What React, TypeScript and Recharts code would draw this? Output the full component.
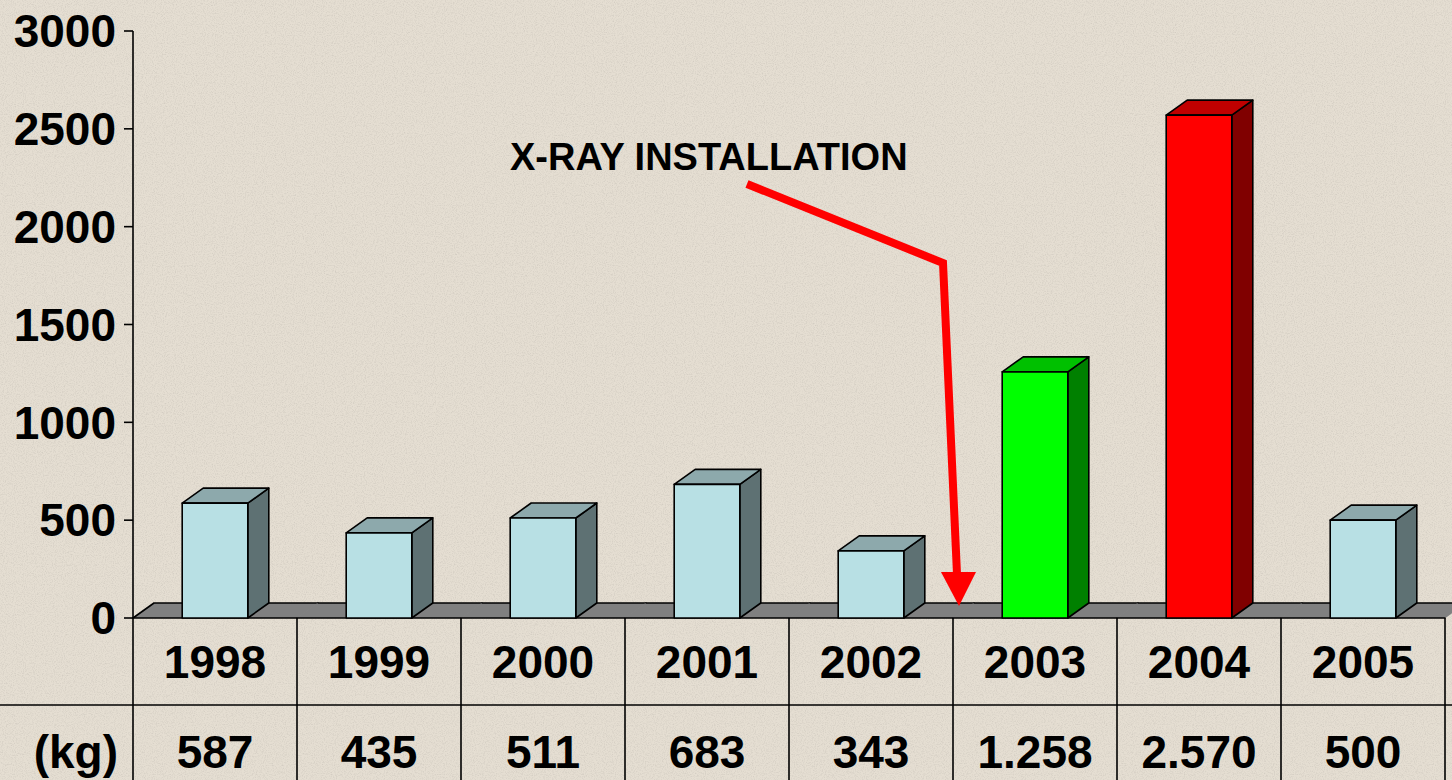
import { BarChart, Bar, XAxis, YAxis } from 'recharts'

// data
const years = ['1998', '1999', '2000', '2001', '2002', '2003', '2004', '2005']
const kilos = [587, 435, 511, 683, 343, 1258, 2570, 500]
const tones = ['ice', 'ice', 'ice', 'ice', 'ice', 'green', 'red', 'ice']
const yTicks = [0, 500, 1000, 1500, 2000, 2500, 3000]

const TONE: Record<string, { front: string; top: string; side: string }> = {
  ice:   { front: '#B8E0E4', top: '#8DA9AC', side: '#5E7173' },
  green: { front: '#00FF00', top: '#00C000', side: '#008000' },
  red:   { front: '#FF0000', top: '#C00000', side: '#800000' },
}

const W = 1452
const H = 780
const LEFT = 133
const TOP = 31
const RIGHT = 7
const XAXIS_H = 162
const BASE = H - XAXIS_H
const BAND = (W - LEFT - RIGHT) / years.length
const DX = 21
const DY = 15
const FONT = "'Liberation Sans', Arial, sans-serif"

const data = years.map((year, i) => ({ year, kg: kilos[i], tone: tones[i] }))

const fmt = (v: number) => String(v).replace(/\B(?=(\d{3})+(?!\d))/g, '.')

function Box3D(props: any) {
  const { x, y, width, height } = props
  const tone = TONE[(props.payload ?? props).tone] ?? TONE.ice
  const fw = width * 0.4
  const fx = x + (width - fw) / 2
  const top = y
  const bottom = y + height
  const r = fx + fw
  return (
    <g stroke="#000" strokeWidth={1.6} strokeLinejoin="round">
      <polygon points={`${r},${top} ${r + DX},${top - DY} ${r + DX},${bottom - DY} ${r},${bottom}`} fill={tone.side} />
      <polygon points={`${fx},${top} ${fx + DX},${top - DY} ${r + DX},${top - DY} ${r},${top}`} fill={tone.top} />
      <rect x={fx} y={top} width={fw} height={bottom - top} fill={tone.front} />
    </g>
  )
}

function FloorPiece(props: any) {
  const { x, y, width, height, index } = props
  const b = y + height
  return (
    <g>
      <polygon
        points={`${x - 0.5},${b} ${x - 0.5 + DX},${b - DY} ${x + width + 0.5 + DX},${b - DY} ${x + width + 0.5},${b}`}
        fill="#808080"
      />
      <line x1={x + DX - 0.5} y1={b - DY} x2={x + width + DX + 0.5} y2={b - DY} stroke="#000" strokeWidth={1.6} />
      <line x1={x - 0.5} y1={b} x2={x + width + 0.5} y2={b} stroke="#000" strokeWidth={1.6} />
      {index === 0 && <line x1={x} y1={b} x2={x + DX} y2={b - DY} stroke="#000" strokeWidth={1.6} />}
    </g>
  )
}

function TableTick(props: any) {
  const { x, payload, index } = props
  const v = kilos[index]
  return (
    <g fontFamily={FONT} fontWeight="bold" fontSize={46} fill="#000">
      {index === 0 && (
        <>
          <line x1={0} y1={BASE + 87} x2={W} y2={BASE + 87} stroke="#000" strokeWidth={1.6} />
          <line x1={x - BAND / 2} y1={BASE} x2={x - BAND / 2} y2={H} stroke="#000" strokeWidth={1.6} />
          <text x={118} y={BASE + 150} textAnchor="end">(kg)</text>
        </>
      )}
      <line x1={x + BAND / 2} y1={BASE} x2={x + BAND / 2} y2={H} stroke="#000" strokeWidth={1.6} />
      <text x={x} y={BASE + 60} textAnchor="middle">{payload.value}</text>
      <text x={x} y={BASE + 150} textAnchor="middle">{fmt(v)}</text>
    </g>
  )
}

export default function App() {
  return (
    <div style={{ position: 'relative', width: W, height: H, background: '#E5DED2', overflow: 'hidden' }}>
      <style>{'body{margin:0}'}</style>
      {/* speckled paper texture */}
      <svg width={W} height={H} style={{ position: 'absolute', left: 0, top: 0 }}>
        <filter id="paper">
          <feTurbulence type="fractalNoise" baseFrequency="0.9" numOctaves={2} seed={4} />
          <feColorMatrix values="0 0 0 0 0.45  0 0 0 0 0.42  0 0 0 0 0.38  0 0 0 -2.2 1.25" />
        </filter>
        <rect width={W} height={H} filter="url(#paper)" opacity={0.35} />
      </svg>
      <div style={{ position: 'absolute', left: 0, top: 0 }}>
        <BarChart width={W} height={H} data={data} barCategoryGap={0} margin={{ top: TOP, right: RIGHT, left: 0, bottom: 0 }}>
          <XAxis dataKey="year" height={XAXIS_H} axisLine={false} tickLine={false} interval={0} tick={<TableTick />} />
          <YAxis
            width={LEFT}
            domain={[0, 3000]}
            ticks={yTicks}
            interval={0}
            tickSize={9}
            tickMargin={8}
            axisLine={{ stroke: '#000', strokeWidth: 1.6 }}
            tickLine={{ stroke: '#000', strokeWidth: 1.6 }}
            tick={{ fill: '#000', fontSize: 46, fontWeight: 'bold', fontFamily: FONT }}
          />
          <Bar dataKey="kg" isAnimationActive={false} shape={<Box3D />} background={(p: any) => <FloorPiece key={p.index} {...p} />} />
        </BarChart>
      </div>
      <svg width={W} height={H} style={{ position: 'absolute', left: 0, top: 0, pointerEvents: 'none' }}>
        <text x={510} y={170} fontFamily={FONT} fontWeight="bold" fontSize={38} fill="#000">X-RAY INSTALLATION</text>
        <polyline points="747,184 943,263 957,574" fill="none" stroke="#FF0000" strokeWidth={8} strokeLinejoin="miter" />
        <polygon points="941,572 976,572 959,606" fill="#FF0000" />
      </svg>
    </div>
  )
}
